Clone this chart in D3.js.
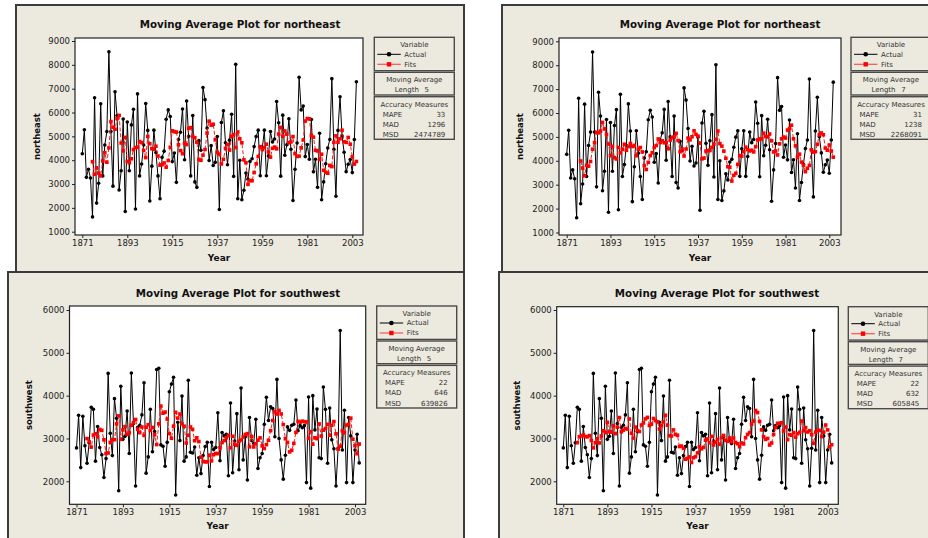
<!DOCTYPE html>
<html>
<head>
<meta charset="utf-8">
<script src="https://cdn.jsdelivr.net/npm/d3@7"></script>
<style>
  body { margin: 0; background: #fff; }
  text { font-family: "DejaVu Sans", Verdana, sans-serif; }
</style>
</head>
<body>
<div id="chart"></div>
<script>
// years 1871 .. 2005, one observation per year
const firstYear = 1871;
const lastYear = 2005;

const northeast = [
  4270, 5280, 3280, 3620, 3250, 1620, 6620, 2200, 3030, 6370,
  3340, 4640, 5200, 8550, 5200, 2910, 6870, 5870, 2750, 3560,
  5730, 1850, 5600, 3560, 5480, 6140, 1950, 6780, 3340, 3840,
  4640, 6380, 5250, 2290, 3750, 5260, 4320, 3340, 2380, 4120,
  4380, 5720, 6110, 5830, 3940, 4300, 3070, 4870, 5170, 6150,
  4020, 6480, 5000, 3340, 5870, 3090, 2860, 4820, 4420, 7050,
  6540, 5350, 3990, 4610, 3780, 3910, 4990, 1930, 5580, 6070,
  4730, 3810, 4840, 5930, 3320, 8020, 2380, 4000, 2340, 2740,
  3460, 3200, 3950, 4060, 4570, 4990, 5260, 3350, 4500, 5260,
  3350, 4180, 5200, 4760, 4890, 6460, 5570, 3330, 5890, 4210,
  4650, 5740, 4460, 2310, 3620, 4720, 7480, 6110, 6270, 4150,
  4660, 4040, 5710, 3510, 4040, 2860, 5130, 2340, 3090, 3850,
  4510, 4870, 7420, 4460, 2490, 5250, 6660, 5010, 4330, 3520,
  3830, 4030, 3480, 4870, 7290
];

const southwest = [
  2780, 3540, 2320, 3520, 2830, 2420, 2900, 3730, 3680, 2470,
  3280, 2790, 2620, 2090, 2530, 4520, 3120, 2600, 3930, 3470,
  1780, 4220, 2980, 3050, 3640, 2650, 4530, 3350, 1890, 3260,
  3310, 3550, 4300, 2190, 2570, 3680, 2690, 3160, 4610, 4640,
  2850, 2820, 2350, 2910, 4090, 4270, 4430, 1680, 3380, 2950,
  3990, 2470, 2570, 4360, 2680, 2660, 2800, 2140, 2550, 2180,
  2600, 2810, 2910, 1880, 2910, 2740, 2790, 3600, 2480, 3140,
  3060, 3100, 2130, 3830, 2200, 2940, 3580, 2270, 4180, 2500,
  3040, 2030, 3490, 2950, 2880, 3450, 2300, 2550, 2650, 3330,
  3960, 3420, 3740, 3700, 3040, 4380, 3000, 2500, 2050, 2610,
  3270, 3190, 3310, 3330, 3900, 3180, 3300, 3250, 3300, 1970,
  3970, 1840, 4000, 3200, 3690, 2550, 2530, 4200, 3680, 2420,
  3710, 2970, 2760, 1890, 2770, 5520, 2730, 3660, 1970, 3490,
  3060, 1970, 2730, 3100, 2430
];

const yearTicks = [1871, 1893, 1915, 1937, 1959, 1981, 2003];
const neTicks = [1000, 2000, 3000, 4000, 5000, 6000, 7000, 8000, 9000];
const swTicks = [2000, 3000, 4000, 5000, 6000];

// moving average length and accuracy measures, left panel then right panel
const maLength = [5, 7];
const neMAPE = [33, 31];
const neMAD = [1296, 1238];
const neMSD = [2474789, 2268091];
const swMAPE = [22, 22];
const swMAD = [646, 632];
const swMSD = [639826, 605845];

const years = d3.range(firstYear, lastYear + 1);

// Minitab fits: the moving average of the previous `len` observations
function maFits(series, len) {
  return series.map((d, i) => i < len ? null : d3.mean(series.slice(i - len, i)));
}

const beige = "#ECE9DF";
const W = 928, H = 538;

const svg = d3.select("#chart")
  .append("svg")
    .attr("width", W)
    .attr("height", H);

svg.append("rect").attr("width", W).attr("height", H).attr("fill", "#fff");

const panels = [
  { name: "northeast", data: northeast, ticks: neTicks, k: 0,
    frame: [16, 5, 448, 267], box: [75, 38, 363, 235],
    xr: [82.3, 352.3], yd: [1000, 9000], yr: [231.7, 41],
    titleX: 240, titleY: 24, ylabX: 37, xlabY: 258, legend: [374.3, 37.3],
    mape: neMAPE, mad: neMAD, msd: neMSD },
  { name: "northeast", data: northeast, ticks: neTicks, k: 1,
    frame: [502, 5, 440, 267], box: [559, 38, 841, 235],
    xr: [566.7, 829.3], yd: [1000, 9000], yr: [232.5, 41.3],
    titleX: 720, titleY: 24, ylabX: 520, xlabY: 258, legend: [851, 37.3],
    mape: neMAPE, mad: neMAD, msd: neMSD },
  { name: "southwest", data: southwest, ticks: swTicks, k: 0,
    frame: [8, 272, 456, 275], box: [69.5, 306, 365.7, 504.3],
    xr: [76.5, 355], yd: [2000, 6000], yr: [481.3, 310],
    titleX: 238, titleY: 293, ylabX: 29.5, xlabY: 526, legend: [376.7, 306],
    mape: swMAPE, mad: swMAD, msd: swMSD },
  { name: "southwest", data: southwest, ticks: swTicks, k: 1,
    frame: [499, 272, 440, 275], box: [556.7, 306.7, 838.3, 504.3],
    xr: [563.3, 827.7], yd: [2000, 6000], yr: [481.3, 310],
    titleX: 717, titleY: 293, ylabX: 517, xlabY: 526, legend: [848.3, 306.7],
    mape: swMAPE, mad: swMAD, msd: swMSD }
];

panels.forEach(drawPanel);

function drawPanel(p) {
  const g = svg.append("g");
  const len = maLength[p.k];
  const fits = maFits(p.data, len);

  g.append("rect")
    .attr("x", p.frame[0]).attr("y", p.frame[1])
    .attr("width", p.frame[2]).attr("height", p.frame[3])
    .attr("fill", beige)
    .attr("stroke", "#3c3c3c")
    .attr("stroke-width", 2);

  const x = d3.scaleLinear().domain([1871, 2003]).range(p.xr);
  const y = d3.scaleLinear().domain(p.yd).range(p.yr);

  const [l, t, r, b] = p.box;
  g.append("rect")
    .attr("x", l).attr("y", t)
    .attr("width", r - l).attr("height", b - t)
    .attr("fill", "#fff")
    .attr("stroke", "#222")
    .attr("stroke-width", 1.2);

  const yAxis = g.append("g")
    .attr("transform", "translate(" + l + ",0)")
    .call(d3.axisLeft(y).tickValues(p.ticks).tickSize(3).tickPadding(2).tickFormat(d3.format("d")));
  const xAxis = g.append("g")
    .attr("transform", "translate(0," + b + ")")
    .call(d3.axisBottom(x).tickValues(yearTicks).tickSize(3).tickPadding(2).tickFormat(d3.format("d")));
  [yAxis, xAxis].forEach(a => {
    a.select(".domain").remove();
    a.selectAll("line").attr("stroke", "#222");
    a.selectAll("text")
      .attr("fill", "#222")
      .style("font-size", "8.5px")
      .style("font-family", "'DejaVu Sans', Verdana, sans-serif");
  });

  // title and axis labels
  g.append("text")
    .attr("x", p.titleX).attr("y", p.titleY)
    .attr("text-anchor", "middle").attr("dy", "0.35em")
    .style("font-size", "10.3px").style("font-weight", "bold")
    .attr("fill", "#111")
    .text("Moving Average Plot for " + p.name);
  g.append("text")
    .attr("x", (l + r) / 2).attr("y", p.xlabY)
    .attr("text-anchor", "middle").attr("dy", "0.35em")
    .style("font-size", "9px").style("font-weight", "bold")
    .attr("fill", "#111")
    .text("Year");
  g.append("text")
    .attr("transform", "translate(" + p.ylabX + "," + ((t + b) / 2) + ") rotate(-90)")
    .attr("text-anchor", "middle").attr("dy", "0.35em")
    .style("font-size", "8.5px").style("font-weight", "bold")
    .attr("fill", "#111")
    .text(p.name);

  // actual series
  const line = d3.line()
    .defined(d => d != null)
    .x((d, i) => x(years[i]))
    .y(d => y(d));

  g.append("path")
    .datum(p.data)
    .attr("fill", "none")
    .attr("stroke", "#000")
    .attr("stroke-width", 1)
    .attr("d", line);

  g.selectAll(".act")
    .data(p.data)
    .enter()
    .append("circle")
      .attr("cx", (d, i) => x(years[i]))
      .attr("cy", d => y(d))
      .attr("r", 1.8)
      .attr("fill", "#000");

  // fits
  g.append("path")
    .datum(fits)
    .attr("fill", "none")
    .attr("stroke", "#ff1a1a")
    .attr("stroke-width", 1)
    .attr("stroke-dasharray", "4,2")
    .attr("d", line);

  const sq = 3.6;
  g.selectAll(".fit")
    .data(fits.map((d, i) => ({ v: d, yr: years[i] })).filter(d => d.v != null))
    .enter()
    .append("rect")
      .attr("x", d => x(d.yr) - sq / 2)
      .attr("y", d => y(d.v) - sq / 2)
      .attr("width", sq)
      .attr("height", sq)
      .attr("fill", "#ff0000");

  drawLegend(g, p.legend[0], p.legend[1], len, p.mape[p.k], p.mad[p.k], p.msd[p.k]);
}

function drawLegend(g, lx, ly, len, mape, mad, msd) {
  const bw = 80;
  const boxes = [[0, 33.4], [35, 22.7], [59.4, 42.6]];
  boxes.forEach(bx => {
    g.append("rect")
      .attr("x", lx).attr("y", ly + bx[0])
      .attr("width", bw).attr("height", bx[1])
      .attr("fill", beige)
      .attr("stroke", "#4a4a4a")
      .attr("stroke-width", 1.4);
  });

  const txt = (tx, ty, s, anchor) => g.append("text")
    .attr("x", tx).attr("y", ty)
    .attr("dy", "0.35em")
    .attr("text-anchor", anchor || "start")
    .style("font-size", "7px")
    .attr("fill", "#333")
    .text(s);

  txt(lx + bw / 2, ly + 7.7, "Variable", "middle");
  // Actual
  g.append("line")
    .attr("x1", lx + 3).attr("x2", lx + 26.5)
    .attr("y1", ly + 17).attr("y2", ly + 17)
    .attr("stroke", "#000").attr("stroke-width", 1);
  g.append("circle")
    .attr("cx", lx + 14.7).attr("cy", ly + 17).attr("r", 2.3)
    .attr("fill", "#000");
  txt(lx + 30, ly + 17, "Actual");
  // Fits
  g.append("line")
    .attr("x1", lx + 3).attr("x2", lx + 26.5)
    .attr("y1", ly + 27).attr("y2", ly + 27)
    .attr("stroke", "#ff5050").attr("stroke-width", 1.2);
  g.append("rect")
    .attr("x", lx + 12.5).attr("y", ly + 24.8)
    .attr("width", 4.4).attr("height", 4.4)
    .attr("fill", "#ff0000");
  txt(lx + 30, ly + 27, "Fits");

  txt(lx + bw / 2, ly + 42.7, "Moving Average", "middle");
  txt(lx + 20.4, ly + 52.7, "Length");
  txt(lx + 52.4, ly + 52.7, String(len), "middle");

  txt(lx + bw / 2, ly + 66.9, "Accuracy Measures", "middle");
  const rows = [["MAPE", mape], ["MAD", mad], ["MSD", msd]];
  rows.forEach((rw, i) => {
    txt(lx + 8.4, ly + 76.9 + i * 10.1, rw[0]);
    txt(lx + 71, ly + 76.9 + i * 10.1, String(rw[1]), "end");
  });
}
</script>
</body>
</html>
